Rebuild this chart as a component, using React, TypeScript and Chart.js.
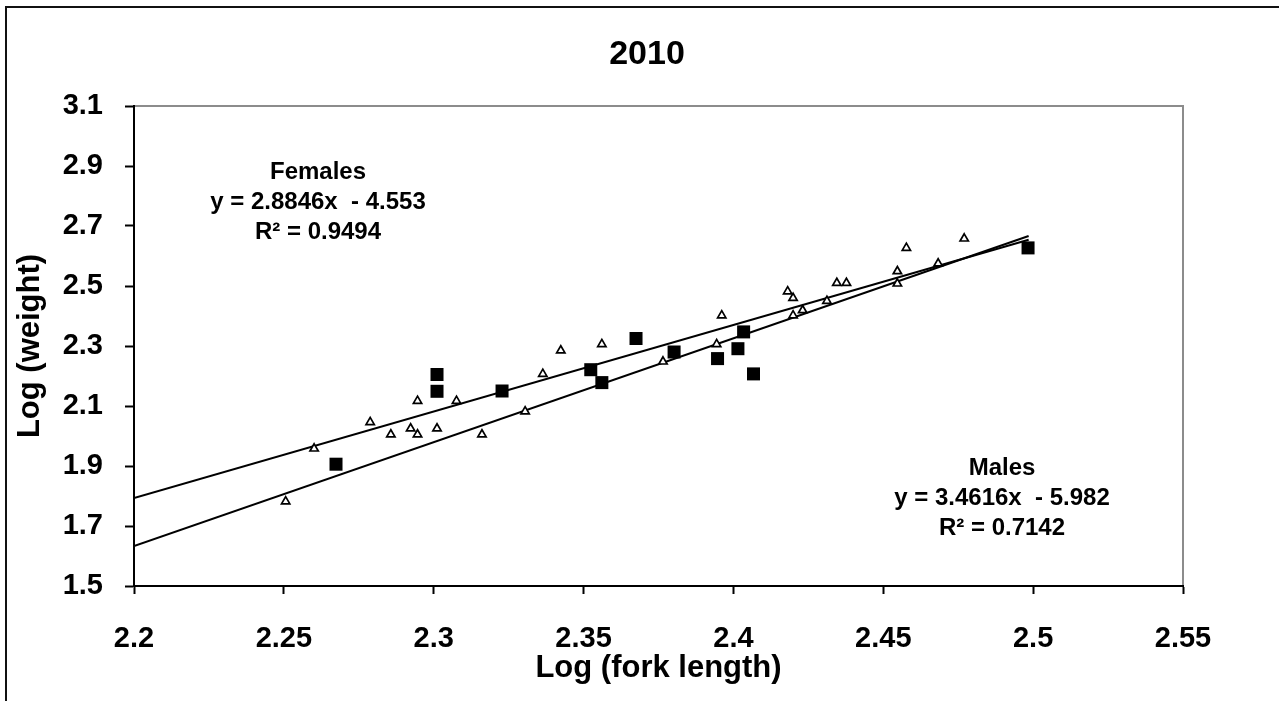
import React, { useEffect, useRef } from "react";
import { Chart, registerables } from "chart.js";

Chart.register(...registerables);

const FONT = "'Liberation Sans', Arial, Helvetica, sans-serif";

// Females (open triangles)
const femaleX = [2.2506, 2.2601, 2.2788, 2.2857, 2.2923, 2.2946, 2.2946, 2.3011, 2.3076, 2.3161, 2.3305, 2.3364, 2.3424, 2.3561, 2.3765, 2.3944, 2.3961, 2.4181, 2.4199, 2.4199, 2.4231, 2.4312, 2.4345, 2.4377, 2.4547, 2.4547, 2.4577, 2.4683, 2.477];
const femaleY = [1.782, 1.958, 2.046, 2.005, 2.025, 2.005, 2.117, 2.025, 2.117, 2.005, 2.082, 2.207, 2.285, 2.306, 2.248, 2.306, 2.402, 2.482, 2.46, 2.402, 2.419, 2.45, 2.51, 2.51, 2.549, 2.508, 2.627, 2.575, 2.658];

// Males (filled squares)
const maleX = [2.2674, 2.3011, 2.3011, 2.3228, 2.3524, 2.3561, 2.3675, 2.3802, 2.3947, 2.4015, 2.4034, 2.4067, 2.4983];
const maleY = [1.906, 2.149, 2.205, 2.15, 2.221, 2.178, 2.325, 2.28, 2.258, 2.291, 2.347, 2.207, 2.627];

// Trendlines (endpoints of the fitted equations)
const trendX = [2.2, 2.4985];
const femaleTrendY = [1.7931, 2.6542];
const maleTrendY = [1.6335, 2.6668];

const chartTitle = "2010";
const xTitle = "Log (fork length)";
const yTitle = "Log (weight)";
const femaleLabel = ["Females", "y = 2.8846x  - 4.553", "R² = 0.9494"];
const maleLabel = ["Males", "y = 3.4616x  - 5.982", "R² = 0.7142"];

const toPoints = (xs: number[], ys: number[]) => xs.map((x, i) => ({ x, y: ys[i] }));
const fmt = (v: number | string) => String(Math.round(Number(v) * 100) / 100);

export default function App() {
  const ref = useRef<HTMLCanvasElement>(null);

  useEffect(() => {
    const canvas = ref.current;
    if (!canvas) return;

    const decor = {
      id: "decor",
      beforeDraw(chart: any) {
        const { ctx, chartArea } = chart;
        ctx.save();
        ctx.fillStyle = "#ffffff";
        ctx.fillRect(0, 0, chart.width, chart.height);
        // outer frame
        ctx.strokeStyle = "#111111";
        ctx.lineWidth = 2;
        ctx.beginPath();
        ctx.moveTo(6, chart.height + 4);
        ctx.lineTo(6, 7);
        ctx.lineTo(chart.width + 4, 7);
        ctx.stroke();
        // plot area top/right border (gray)
        ctx.strokeStyle = "#8c8c8c";
        ctx.lineWidth = 2;
        ctx.beginPath();
        ctx.moveTo(chartArea.left, chartArea.top);
        ctx.lineTo(chartArea.right, chartArea.top);
        ctx.lineTo(chartArea.right, chartArea.bottom);
        ctx.stroke();
        ctx.restore();
      },
      afterDraw(chart: any) {
        const { ctx } = chart;
        ctx.save();
        ctx.fillStyle = "#000";
        ctx.textAlign = "center";
        ctx.textBaseline = "middle";
        ctx.font = `bold 34px ${FONT}`;
        ctx.fillText(chartTitle, 647, 55);
        ctx.font = `bold 24px ${FONT}`;
        femaleLabel.forEach((t, i) => ctx.fillText(t, 318, 172 + i * 30));
        maleLabel.forEach((t, i) => ctx.fillText(t, 1002, 468 + i * 30));
        ctx.restore();
      },
    };

    const tickFont = { family: FONT, size: 29, weight: "bold" as const };
    const titleFont = { family: FONT, size: 31, weight: "bold" as const };

    const chart = new Chart(canvas, {
      type: "scatter",
      data: {
        datasets: [
          {
            label: "Males",
            data: toPoints(maleX, maleY),
            pointStyle: "rect",
            pointRadius: 9.2,
            backgroundColor: "#000",
            borderColor: "#000",
            borderWidth: 0,
          },
          {
            label: "Females",
            data: toPoints(femaleX, femaleY),
            pointStyle: "triangle",
            pointRadius: 4.8,
            backgroundColor: "#fff",
            borderColor: "#000",
            borderWidth: 1.7,
          },
          {
            label: "Females trend",
            data: toPoints(trendX, femaleTrendY),
            showLine: true,
            pointRadius: 0,
            borderColor: "#000",
            borderWidth: 2,
            fill: false,
          },
          {
            label: "Males trend",
            data: toPoints(trendX, maleTrendY),
            showLine: true,
            pointRadius: 0,
            borderColor: "#000",
            borderWidth: 2,
            fill: false,
          },
        ],
      },
      options: {
        responsive: false,
        animation: false,
        devicePixelRatio: 1,
        layout: { padding: { left: 0, right: 96, top: 106, bottom: 0 } },
        plugins: {
          legend: { display: false },
          tooltip: { enabled: false },
          title: { display: false },
        },
        scales: {
          x: {
            type: "linear",
            min: 2.2,
            max: 2.55,
            ticks: {
              stepSize: 0.05,
              callback: (v: any) => fmt(v),
              font: tickFont,
              color: "#000",
              padding: 28,
              maxRotation: 0,
              autoSkip: false,
            },
            grid: {
              drawOnChartArea: false,
              drawTicks: true,
              tickLength: 8,
              tickWidth: 2,
              tickColor: "#000",
            },
            border: { display: true, color: "#000", width: 2 },
            title: {
              display: true,
              text: xTitle,
              font: titleFont,
              color: "#000",
              padding: { top: 0, bottom: 14 },
            },
            afterFit: (s: any) => {
              s.height = 115;
              s.paddingLeft = 0;
              s.paddingRight = 0;
            },
          },
          y: {
            type: "linear",
            min: 1.5,
            max: 3.1,
            ticks: {
              stepSize: 0.2,
              callback: (v: any) => fmt(v),
              font: tickFont,
              color: "#000",
              padding: 22,
            },
            grid: {
              drawOnChartArea: false,
              drawTicks: true,
              tickLength: 9,
              tickWidth: 2,
              tickColor: "#000",
            },
            border: { display: true, color: "#000", width: 2 },
            title: {
              display: true,
              text: yTitle,
              font: titleFont,
              color: "#000",
              padding: { top: 12, bottom: 0 },
            },
            afterFit: (s: any) => {
              s.width = 134;
              s.paddingTop = 0;
              s.paddingBottom = 0;
            },
          },
        },
      },
      plugins: [decor],
    });

    return () => chart.destroy();
  }, []);

  return (
    <div style={{ position: "absolute", left: 0, top: 0, width: 1279, height: 701, overflow: "hidden", background: "#fff" }}>
      <canvas ref={ref} width={1279} height={701} style={{ display: "block", width: 1279, height: 701 }} />
    </div>
  );
}
